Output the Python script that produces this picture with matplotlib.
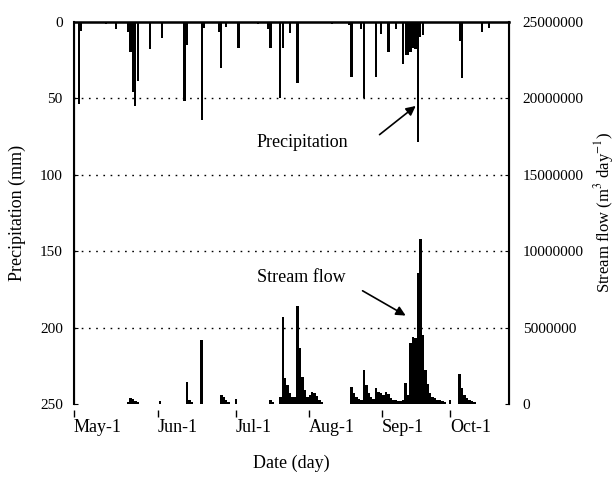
import numpy as np
import matplotlib
matplotlib.use('Agg')
import matplotlib.pyplot as plt

plt.rcParams['font.family'] = ['Liberation Serif', 'DejaVu Serif']
plt.rcParams['mathtext.fontset'] = 'stix'

# days counted from May-1
precip_day = [2, 3, 10, 13, 17, 22, 23, 24, 25, 26, 31, 36, 40, 45, 46, 52, 53, 55,
              59, 60, 62, 67, 70, 75, 79, 80, 84, 85, 88, 91, 100, 105, 110, 112,
              113, 117, 118, 123, 125, 128, 131, 134, 135, 136, 137, 138, 139, 140,
              141, 142, 145, 150, 157, 158, 166, 169]
precip_mm = [54, 6, 1, 1.5, 5, 7, 20, 46, 55, 39, 18, 11, 1, 52, 15, 64, 4, 1,
             7, 30, 3.5, 17, 1, 1.5, 5, 17, 50, 17, 7.5, 40, 1, 1.5, 1, 2,
             36, 5, 50, 36, 8, 20, 5, 28, 22, 22, 20, 17, 18, 79,
             10, 9, 1, 1, 13, 37, 7, 4]

flow_day = [22, 23, 24, 25, 26, 35, 46, 47, 48, 52, 60, 61, 62, 63, 66, 80, 81,
            84, 85, 86, 87, 88, 89, 90, 91, 92, 93, 94, 95, 96, 97, 98, 99, 100, 101,
            113, 114, 115, 116, 117, 118, 119, 120, 121, 122, 123, 124, 125, 126,
            127, 128, 129, 130, 131, 132, 133, 134, 135, 136, 137, 138, 139, 140,
            141, 142, 143, 144, 145, 146, 147, 148, 149, 150, 151, 153,
            157, 158, 159, 160, 161, 162, 163]
flow_m3 = [0.15e6, 0.4e6, 0.33e6, 0.2e6, 0.13e6, 0.2e6, 1.44e6, 0.26e6, 0.15e6, 4.2e6,
           0.6e6, 0.45e6, 0.3e6, 0.15e6, 0.33e6, 0.26e6, 0.13e6,
           0.46e6, 5.7e6, 1.7e6, 1.24e6, 0.72e6, 0.46e6, 0.5e6, 6.4e6, 3.7e6, 1.76e6,
           0.9e6, 0.5e6, 0.6e6, 0.8e6, 0.75e6, 0.55e6, 0.3e6, 0.15e6,
           1.1e6, 0.72e6, 0.46e6, 0.35e6, 0.3e6, 2.2e6, 1.24e6, 0.72e6, 0.46e6, 0.35e6,
           1.04e6, 0.8e6, 0.72e6, 0.6e6, 0.78e6, 0.65e6, 0.4e6, 0.26e6, 0.3e6, 0.2e6,
           0.2e6, 0.25e6, 1.37e6, 0.6e6, 4.0e6, 4.4e6, 4.3e6, 8.6e6,
           10.8e6, 4.5e6, 2.2e6, 1.3e6, 0.72e6, 0.46e6, 0.4e6, 0.3e6, 0.26e6, 0.2e6,
           0.15e6, 0.26e6,
           2.0e6, 1.04e6, 0.6e6, 0.4e6, 0.3e6, 0.2e6, 0.13e6]

month_pos = [0, 34.2, 65.9, 95.6, 125.4, 153.0]
month_labels = ['May-1', 'Jun-1', 'Jul-1', 'Aug-1', 'Sep-1', 'Oct-1']

fig = plt.figure(figsize=(6.16, 4.8), dpi=100)
ax = fig.add_axes([0.120, 0.158, 0.706, 0.797])

# precipitation hangs from the top
ax.bar(precip_day, precip_mm, width=0.9, color='black')
ax.set_ylim(250, 0)
ax.set_xlim(0, 177)
ax.set_yticks([0, 50, 100, 150, 200, 250])
for v in [50, 100, 150, 200]:
    ax.axhline(v, color='black', lw=1, linestyle=(0, (1.2, 4)), zorder=0)
ax.set_ylabel('Precipitation (mm)', fontsize=13, labelpad=10)
ax.set_xlabel('Date (day)', fontsize=13, labelpad=13)
ax.spines['bottom'].set_position(('outward', 4))
ax.spines['bottom'].set_visible(False)
ax.tick_params(axis='x', direction='out', length=5, width=1, pad=2, labelsize=13)
ax.tick_params(axis='y', direction='in', length=3, labelsize=11, pad=8)
ax.spines['top'].set_linewidth(1.8)
ax.spines['left'].set_linewidth(1.5)

# stream flow grows from the bottom
ax2 = ax.twinx()
ax2.bar(flow_day, flow_m3, width=1.0, color='black')
ax2.set_ylim(0, 25000000)
ax2.set_yticks([0, 5000000, 10000000, 15000000, 20000000, 25000000])
ax2.set_yticklabels(['0', '5000000', '10000000', '15000000', '20000000', '25000000'])
ax2.tick_params(axis='y', direction='in', length=3, labelsize=11, pad=10)
ax2.spines['bottom'].set_visible(False)
ax2.spines['right'].set_linewidth(1.5)
ax2.set_ylabel('Stream flow (m$^3$ day$^{-1}$)', fontsize=12, labelpad=6)

ax.set_xticks(month_pos)
ax.set_xticklabels(month_labels)
for lbl in ax.get_xticklabels():
    lbl.set_horizontalalignment('left')

ax.annotate('', xy=(140, 54), xytext=(123.5, 75),
            arrowprops=dict(arrowstyle='-|>', color='black', lw=1.2, mutation_scale=14))
ax.text(74.5, 79, 'Precipitation', fontsize=13, va='center', ha='left')
ax.annotate('', xy=(136, 193), xytext=(116.5, 175),
            arrowprops=dict(arrowstyle='-|>', color='black', lw=1.2, mutation_scale=14))
ax.text(74.5, 167, 'Stream flow', fontsize=13, va='center', ha='left')

fig.savefig('out.png', dpi=100)
